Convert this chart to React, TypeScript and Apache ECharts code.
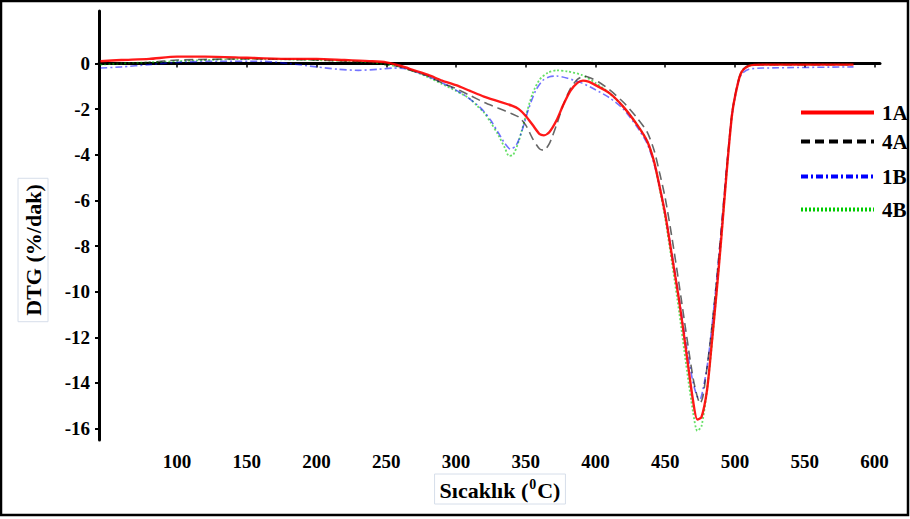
import React, { useEffect, useRef } from "react";
import * as echarts from "echarts";

// Temperature (°C) and DTG (%/dak) values
const t1A = [45, 60, 80, 100, 120, 150, 180, 200, 220, 240, 250, 260, 270, 280, 290, 300, 310, 320, 330, 340, 345, 350, 355, 360, 363, 367, 372, 377, 382, 387, 391, 395, 400, 410, 420, 430, 437, 442, 446, 450, 455, 460, 465, 470, 473, 476, 480, 483, 487, 490, 494, 498, 502, 505, 510, 520, 540, 560, 585];
const v1A = [0.1, 0.15, 0.2, 0.3, 0.3, 0.25, 0.2, 0.2, 0.15, 0.1, 0.05, -0.1, -0.3, -0.5, -0.75, -0.95, -1.2, -1.45, -1.65, -1.85, -2.0, -2.3, -2.7, -3.1, -3.15, -3.0, -2.5, -1.8, -1.2, -0.85, -0.75, -0.8, -0.95, -1.3, -1.9, -2.7, -3.4, -4.3, -5.4, -6.6, -8.5, -10.4, -12.6, -14.8, -15.6, -15.5, -14.3, -12.5, -9.9, -7.8, -4.8, -2.2, -0.9, -0.35, -0.1, -0.05, -0.05, -0.05, -0.05];

const t4A = [45, 60, 80, 100, 150, 200, 240, 250, 260, 270, 280, 290, 300, 310, 320, 330, 340, 345, 350, 355, 360, 363, 367, 372, 377, 382, 387, 392, 397, 402, 410, 420, 430, 437, 442, 446, 450, 455, 460, 465, 470, 473, 475, 477, 480, 483, 487, 490, 494, 498, 502, 505, 510, 520, 585];
const v4A = [0.0, 0.0, 0.05, 0.15, 0.2, 0.15, 0.05, -0.05, -0.15, -0.35, -0.55, -0.85, -1.1, -1.4, -1.7, -1.95, -2.2, -2.35, -2.7, -3.3, -3.75, -3.8, -3.5, -2.7, -1.8, -1.1, -0.7, -0.55, -0.65, -0.8, -1.15, -1.7, -2.4, -3.0, -3.8, -4.8, -5.9, -7.7, -9.7, -11.8, -13.8, -14.6, -14.9, -14.6, -13.3, -11.8, -9.4, -7.4, -4.6, -2.1, -0.85, -0.3, -0.08, -0.05, -0.05];

const t1B = [45, 60, 80, 100, 130, 160, 180, 200, 215, 230, 245, 255, 265, 275, 285, 295, 305, 315, 320, 325, 330, 335, 339, 343, 347, 352, 357, 362, 367, 372, 380, 390, 400, 410, 420, 430, 437, 442, 446, 450, 455, 460, 465, 470, 473, 475, 477, 480, 483, 487, 490, 494, 498, 502, 505, 510, 520, 585];
const v1B = [-0.2, -0.15, -0.05, 0.05, 0.1, 0.1, 0.0, -0.15, -0.25, -0.3, -0.25, -0.2, -0.25, -0.45, -0.7, -1.0, -1.35, -1.8, -2.1, -2.5, -3.0, -3.5, -3.75, -3.6, -3.0, -2.0, -1.2, -0.75, -0.58, -0.55, -0.65, -0.85, -1.15, -1.5, -2.0, -2.8, -3.5, -4.4, -5.4, -6.6, -8.4, -10.3, -12.3, -14.0, -14.6, -14.7, -14.3, -13.3, -11.8, -9.4, -7.4, -4.6, -2.2, -0.9, -0.45, -0.25, -0.2, -0.15];

const t4B = [45, 60, 80, 100, 150, 200, 240, 250, 260, 270, 280, 290, 300, 310, 315, 320, 325, 330, 335, 338, 341, 345, 350, 355, 360, 366, 372, 380, 390, 400, 410, 420, 430, 437, 442, 446, 450, 455, 460, 465, 470, 473, 476, 480, 483, 487, 490, 494, 498, 502, 505, 510, 520, 585];
const v4B = [-0.05, 0.0, 0.05, 0.1, 0.2, 0.15, 0.05, -0.05, -0.15, -0.35, -0.6, -0.9, -1.2, -1.55, -1.85, -2.15, -2.6, -3.1, -3.7, -4.05, -4.0, -3.4, -2.3, -1.3, -0.7, -0.4, -0.3, -0.35, -0.5, -0.85, -1.3, -1.9, -2.7, -3.4, -4.3, -5.5, -6.8, -8.8, -10.9, -13.2, -15.3, -16.1, -15.9, -14.3, -12.6, -9.9, -7.8, -4.8, -2.2, -0.9, -0.35, -0.1, -0.05, -0.05];

const xTicks = [100, 150, 200, 250, 300, 350, 400, 450, 500, 550, 600];
const yTicks = [0, -2, -4, -6, -8, -10, -12, -14, -16];

const FONT = "Liberation Serif";

const zip = (t: number[], v: number[]) => t.map((x, i) => [x, v[i]]);

export default function App() {
  const ref = useRef<HTMLDivElement>(null);
  useEffect(() => {
    const chart = echarts.init(ref.current!, null, { renderer: "svg" });
    const labelStyle = { fontFamily: FONT, fontWeight: "bold" as const, fontSize: 19, color: "#000" };
    const legendBase = (name: string, top: number) => ({
      data: [{ name }],
      left: 799,
      top,
      orient: "vertical" as const,
      itemWidth: 73,
      itemHeight: 14,
      padding: 0,
      selectedMode: false,
      itemStyle: { opacity: 0, borderWidth: 0 },
      lineStyle: { width: 4, opacity: 1 },
      textStyle: { fontFamily: FONT, fontWeight: "bold" as const, fontSize: 21, color: "#000", padding: [0, 0, 0, 3] },
    });
    chart.setOption({
      animation: false,
      backgroundColor: "#fff",
      grid: { left: 99, right: 30, top: 11, bottom: 79, containLabel: false },
      xAxis: {
        type: "value",
        min: 44,
        max: 604,
        axisLine: { show: true, lineStyle: { color: "#000", width: 3 } },
        axisTick: { show: true, length: 4, lineStyle: { color: "#000", width: 1.5 }, customValues: xTicks },
        axisLabel: { ...labelStyle, margin: 12, customValues: xTicks },
        splitLine: { show: false },
      },
      yAxis: {
        type: "value",
        min: -16.5,
        max: 2.3,
        axisLine: { show: true, lineStyle: { color: "#000", width: 3 } },
        axisTick: { show: true, length: 4, lineStyle: { color: "#000", width: 2 }, customValues: yTicks },
        axisLabel: { ...labelStyle, margin: 9, customValues: yTicks },
        splitLine: { show: false },
      },
      legend: [legendBase("1A", 102), legendBase("4A", 131), legendBase("1B", 166), legendBase("4B", 199)],
      series: [
        {
          name: "4B",
          type: "line",
          data: zip(t4B, v4B),
          symbol: "none",
          smooth: 0.25,
          color: "#00dd00",
          lineStyle: { color: "#00cc00", width: 1.8, type: [2, 2], opacity: 0.6 },
        },
        {
          name: "1B",
          type: "line",
          data: zip(t1B, v1B),
          symbol: "none",
          smooth: 0.25,
          color: "#0000ff",
          lineStyle: { color: "#0000ff", width: 1.6, type: [7, 3, 2, 3], opacity: 0.55 },
        },
        {
          name: "4A",
          type: "line",
          data: zip(t4A, v4A),
          symbol: "none",
          smooth: 0.25,
          color: "#000",
          lineStyle: { color: "#000", width: 1.6, type: [9, 5], opacity: 0.6 },
        },
        {
          name: "1A",
          type: "line",
          data: zip(t1A, v1A),
          symbol: "none",
          smooth: 0.25,
          color: "#ff0000",
          lineStyle: { color: "#ff0000", width: 2.4, opacity: 0.9 },
        },
      ],
      graphic: [
        {
          type: "rect",
          shape: { x: 1, y: 1, width: 907, height: 514 },
          style: { fill: "none", stroke: "#000", lineWidth: 2.5 },
          silent: true,
        },
        {
          type: "text",
          x: 500,
          y: 489,
          style: {
            text: "{a|Sıcaklık (}{s|0}{a|C)}",
            align: "center",
            verticalAlign: "middle",
            borderColor: "#d6deea",
            borderWidth: 1,
            padding: [3, 5, 3, 5],
            rich: {
              a: { fontFamily: FONT, fontWeight: "bold", fontSize: 22, fill: "#000", lineHeight: 24, verticalAlign: "bottom" },
              s: { fontFamily: FONT, fontWeight: "bold", fontSize: 14, fill: "#000", lineHeight: 24, verticalAlign: "top", padding: [0, 1, 0, 1] },
            },
          },
        },
        {
          type: "text",
          x: 33,
          y: 250,
          rotation: Math.PI / 2,
          style: {
            text: "DTG (%/dak)",
            align: "center",
            verticalAlign: "middle",
            fontFamily: FONT,
            fontWeight: "bold",
            fontSize: 22,
            fill: "#000",
            borderColor: "#d6deea",
            borderWidth: 1,
            padding: [4, 6, 4, 6],
          },
        },
      ],
    });
    return () => chart.dispose();
  }, []);
  return (
    <div
      ref={ref}
      style={{ position: "fixed", left: 0, top: 0, width: 910, height: 519, background: "#fff" }}
    />
  );
}
